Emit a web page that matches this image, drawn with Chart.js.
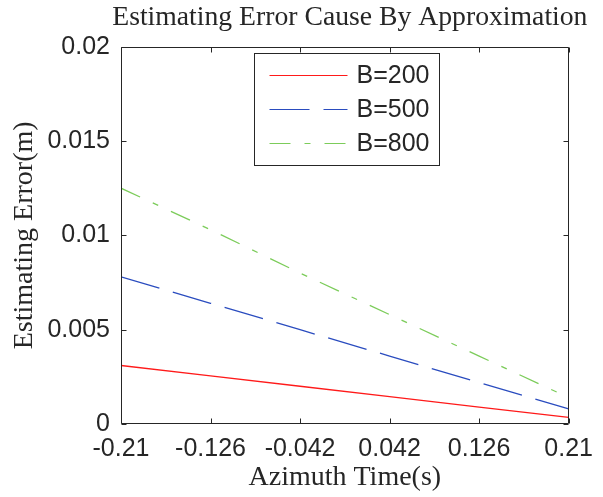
<!DOCTYPE html>
<html>
<head>
<meta charset="utf-8">
<script src="https://cdn.jsdelivr.net/npm/chart.js@4.4.0/dist/chart.umd.min.js"></script>
<style>
html, body { margin: 0; padding: 0; background: #fff; }
</style>
</head>
<body>
<canvas id="errChart" width="603" height="497"></canvas>
<script>
// azimuth time (s) and estimating error (m) for each baseline B
const azimuth = [-0.21, -0.126, -0.042, 0.042, 0.126, 0.21];
const errB200 = [0.0031, 0.00255, 0.0020, 0.00145, 0.0009, 0.00035];
const errB500 = [0.0078, 0.0064, 0.0050, 0.0036, 0.0022, 0.0008];
const errB800 = [0.0125, 0.0103, 0.0080, 0.0058, 0.0036, 0.0014];
const seriesNames = ['B=200', 'B=500', 'B=800'];

const xTicks = [-0.21, -0.126, -0.042, 0.042, 0.126, 0.21];
const yTicks = [0, 0.005, 0.01, 0.015, 0.02];

const INK = '#262626';
const sans = 'Liberation Sans';
const serif = 'Liberation Serif';

const toPoints = ys => azimuth.map((x, i) => ({x: x, y: ys[i]}));

// title sits over the axes but is allowed to run a bit past them
const titleSpan = {
    id: 'titleSpan',
    afterLayout(chart) {
        const a = chart.chartArea, t = chart.titleBlock;
        if (!t) return;
        t.left = a.left - 20;
        t.right = a.right + 30;
        t.width = t.right - t.left;
    }
};

// matlab-ish box with inward ticks on all four sides
const frame = {
    id: 'frame',
    afterDatasetsDraw(chart) {
        const {ctx, chartArea: a, scales: {x, y}} = chart;
        const L = Math.round(a.left) + 0.5, R = Math.round(a.right) - 0.5;
        const T = Math.round(a.top) + 0.5, B = Math.round(a.bottom) - 0.5;
        ctx.save();
        ctx.strokeStyle = INK;
        ctx.lineWidth = 1;
        ctx.beginPath();
        ctx.rect(L, T, R - L, B - T);
        xTicks.forEach(v => {
            const px = Math.round(x.getPixelForValue(v)) + 0.5;
            ctx.moveTo(px, B); ctx.lineTo(px, B - 5);
            ctx.moveTo(px, T); ctx.lineTo(px, T + 5);
        });
        yTicks.forEach(v => {
            const py = Math.round(y.getPixelForValue(v)) + 0.5;
            ctx.moveTo(L, py); ctx.lineTo(L + 5, py);
            ctx.moveTo(R, py); ctx.lineTo(R - 5, py);
        });
        ctx.stroke();
        ctx.restore();
    }
};

// boxed legend inside the axes
const boxLegend = {
    id: 'boxLegend',
    afterDraw(chart) {
        const {ctx, chartArea: a} = chart;
        const left = Math.round(a.left) + 133.5, top = Math.round(a.top) + 6.5;
        const w = 185, h = 112;
        ctx.save();
        ctx.fillStyle = '#fff';
        ctx.fillRect(left, top, w, h);
        ctx.strokeStyle = INK;
        ctx.lineWidth = 1;
        ctx.strokeRect(left, top, w, h);
        ctx.font = '25px "' + sans + '"';
        ctx.textBaseline = 'middle';
        chart.data.datasets.forEach((ds, i) => {
            const ly = Math.round(top + 21 + i * 34) + 0.5;
            ctx.strokeStyle = ds.borderColor;
            ctx.lineWidth = 1;
            ctx.setLineDash(ds.borderDash || []);
            ctx.beginPath();
            ctx.moveTo(left + 15, ly);
            ctx.lineTo(left + 93, ly);
            ctx.stroke();
            ctx.setLineDash([]);
            ctx.fillStyle = INK;
            ctx.fillText(ds.label, left + 102, ly + 1);
        });
        ctx.restore();
    }
};

new Chart(document.getElementById('errChart'), {
    type: 'line',
    data: {
        datasets: [
            {label: seriesNames[0], data: toPoints(errB200), borderColor: '#ff1a1a', borderWidth: 1.3},
            {label: seriesNames[1], data: toPoints(errB500), borderColor: '#2a4cbf', borderWidth: 1.3, borderDash: [40, 14]},
            {label: seriesNames[2], data: toPoints(errB800), borderColor: '#7ccc5a', borderWidth: 1.3, borderDash: [21, 14, 6, 14]}
        ]
    },
    options: {
        responsive: false,
        animation: false,
        events: [],
        elements: {point: {radius: 0}, line: {tension: 0}},
        layout: {padding: {top: 0, right: 25, bottom: 0, left: 0}},
        plugins: {
            legend: {display: false},
            tooltip: {enabled: false},
            title: {
                display: true,
                fullSize: false,
                text: 'Estimating Error Cause By Approximation',
                color: INK,
                font: {family: serif, size: 27.7, weight: 'normal', lineHeight: 1},
                padding: {top: 4, bottom: 15},
                align: 'center'
            }
        },
        scales: {
            x: {
                type: 'linear',
                min: -0.21,
                max: 0.21,
                afterBuildTicks: s => { s.ticks = xTicks.map(v => ({value: v})); },
                afterFit: s => { s.height = 73; },
                grid: {display: false, drawTicks: false},
                border: {display: false},
                ticks: {
                    color: INK,
                    padding: 10,
                    maxRotation: 0,
                    autoSkip: false,
                    font: {family: sans, size: 25},
                    callback: v => String(v)
                },
                title: {
                    display: true,
                    text: 'Azimuth Time(s)',
                    color: INK,
                    font: {family: serif, size: 28, lineHeight: 1},
                    padding: {top: 0, bottom: 5}
                }
            },
            y: {
                min: 0,
                max: 0.02,
                afterBuildTicks: s => { s.ticks = yTicks.map(v => ({value: v})); },
                afterFit: s => { s.width = 121; },
                grid: {display: false, drawTicks: false},
                border: {display: false},
                ticks: {
                    color: INK,
                    padding: 11,
                    autoSkip: false,
                    font: {family: sans, size: 25},
                    callback: v => String(v)
                },
                title: {
                    display: true,
                    text: 'Estimating Error(m)',
                    color: INK,
                    font: {family: serif, size: 28, lineHeight: 1},
                    padding: {top: 11, bottom: 0}
                }
            }
        }
    },
    plugins: [titleSpan, frame, boxLegend]
});
</script>
</body>
</html>
